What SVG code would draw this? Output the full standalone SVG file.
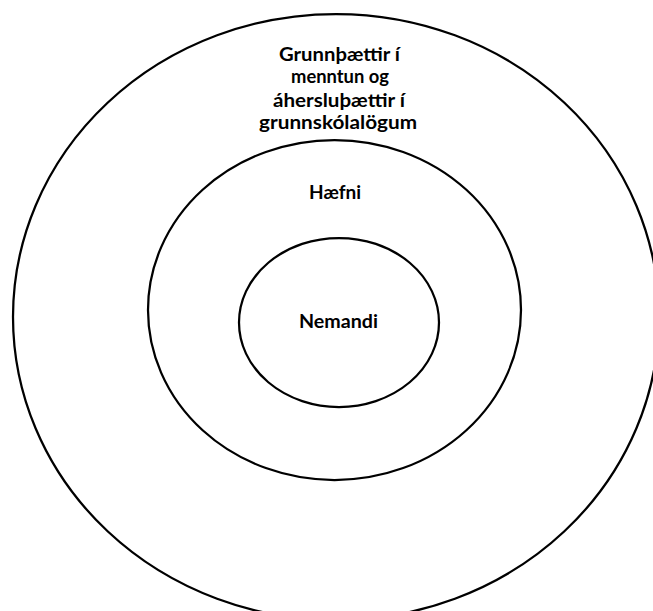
<svg xmlns="http://www.w3.org/2000/svg" width="653" height="611" viewBox="0 0 653 611">
<style>
.ring{fill:none;stroke:#000;stroke-width:2.25}
.lbl{font-family:Lato,"Open Sans","Noto Sans",sans-serif;font-weight:bold;font-size:19px;fill:#000;text-anchor:middle}
</style>
<rect width="653" height="611" fill="#fff"/>
<g id="connectors"/>
<g id="outer">
<ellipse class="ring" cx="336" cy="317" rx="323" ry="303"/>
<text class="lbl" x="339.5" y="60.5" textLength="121" lengthAdjust="spacingAndGlyphs">Grunnþættir í</text>
<text class="lbl" x="340" y="83" textLength="98" lengthAdjust="spacingAndGlyphs">menntun og</text>
<text class="lbl" x="339" y="106.5" textLength="132" lengthAdjust="spacingAndGlyphs">áhersluþættir í</text>
<text class="lbl" x="338" y="129" textLength="158" lengthAdjust="spacingAndGlyphs">grunnskólalögum</text>
</g>
<g id="middle">
<ellipse class="ring" cx="334.5" cy="310" rx="186.5" ry="170"/>
<text class="lbl" x="335" y="199" textLength="52" lengthAdjust="spacingAndGlyphs">Hæfni</text>
</g>
<g id="inner">
<ellipse class="ring" cx="339" cy="322.5" rx="100" ry="84.5"/>
<text class="lbl" x="338.5" y="328" textLength="79" lengthAdjust="spacingAndGlyphs">Nemandi</text>
</g>
</svg>
